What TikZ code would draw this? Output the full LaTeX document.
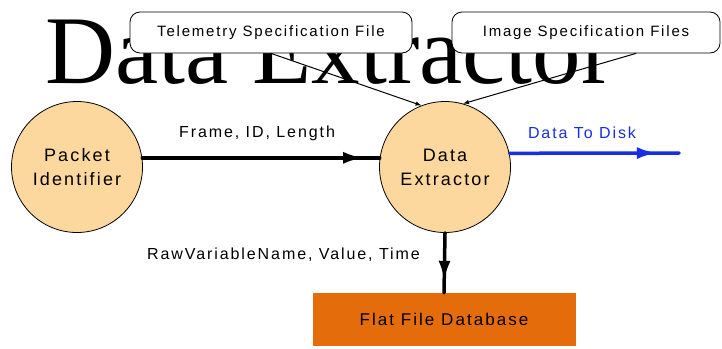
\documentclass[tikz,border=0pt]{standalone}
\usepackage{fontspec}
\setmainfont{Liberation Serif}
\newfontfamily\boxfont[LetterSpace=12]{Liberation Sans}
\usetikzlibrary{calc}
\usetikzlibrary{arrows.meta}
\usetikzlibrary{decorations.markings}
\definecolor{peach}{RGB}{252,216,158}
\definecolor{brickorange}{RGB}{228,108,10}
\definecolor{diskblue}{RGB}{25,45,225}
\tikzstyle{every path}=[line cap=round,line join=round]
\tikzstyle{process}=[circle,draw=black,line width=0.8pt,fill=peach,minimum size=131pt,inner sep=0pt,align=center,font=\boxfont\fontsize{18pt}{24pt}\selectfont]
\tikzstyle{specfile}=[draw=black,line width=0.8pt,fill=white,rounded corners=10pt,minimum height=41pt,inner sep=0pt,font=\boxfont\fontsize{15pt}{18pt}\selectfont]
\tikzstyle{store}=[fill=brickorange,minimum width=263pt,minimum height=53pt,inner sep=0pt,font=\boxfont\fontsize{17pt}{20pt}\selectfont]
\tikzstyle{flowlabel}=[inner sep=0pt,font=\boxfont\fontsize{16pt}{19pt}\selectfont]
\tikzstyle{flow}=[line width=3.5pt,postaction={decorate}]
\tikzset{tipat/.style={decoration={markings,mark=at position #1 with {\arrow{Latex[length=20pt,width=12pt]}}}}}

\begin{document}
\begin{tikzpicture}[x=1pt,y=-1pt]
\useasboundingbox (0,0) rectangle (722,348);

% big heading, partly hidden by the file bubbles
\node [anchor=base west,inner sep=0pt,font=\fontsize{97pt}{100pt}\selectfont] (heading) at (45,83) {Data Extractor};

% specification files
\node [specfile,minimum width=282pt] (telemspec) at (271,32.5) {Telemetry Specification File};
\node [specfile,minimum width=268pt] (imagespec) at (586,32.5) {Image Specification Files};

% processes and store
\node [process] (packetid) at (77,167) {Packet\\Identifier};
\node [process] (extractor) at (445,167) {Data\\Extractor};
\node [store] (flatdb) at (444,319.5) {Flat File Database};
\coordinate (disk) at (679,153);

\draw [-latex,line width=1pt] (telemspec.south) -- (extractor.111);
\draw [-latex,line width=1pt] ([xshift=50pt]imagespec.south) -- (extractor.74);

\draw [flow,tipat=0.93] (packetid.8) -- (extractor.172);
\node [flowlabel] (framelbl) at (257,133) {Frame, ID, Length};

\draw [flow,draw=diskblue,tipat=0.87] (extractor.12) -- (disk);
\node [flowlabel,text=diskblue] (disklbl) at (582,133) {Data To Disk};

\draw [flow,tipat=0.8] (extractor.south) -- (flatdb.north);
\node [flowlabel,anchor=east] (rawlbl) at (420,255) {RawVariableName, Value, Time};
\end{tikzpicture}
\end{document}
